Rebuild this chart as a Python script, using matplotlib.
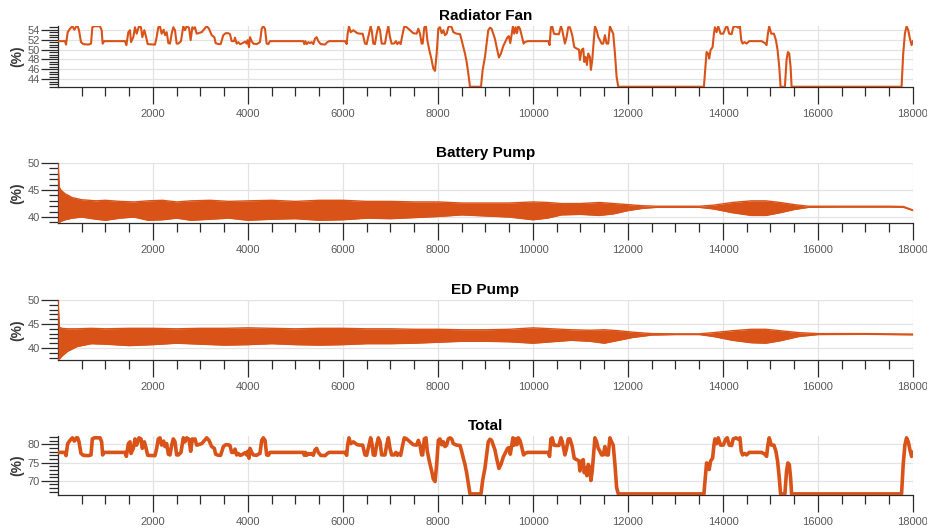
import matplotlib
matplotlib.use("Agg")
import matplotlib.pyplot as plt
from matplotlib.ticker import MultipleLocator, FixedLocator

# radiator fan duty and total (same time base)
t_fan = [0, 147, 169, 204, 253, 302, 344, 386, 414, 442, 484, 533, 639, 695, 723, 765, 884, 919, 940, 975,
         1411, 1439, 1481, 1516, 1537, 1586, 1621, 1656, 1705, 1747, 1775, 1818, 1846, 1888, 2042, 2077, 2112,
         2147, 2182, 2225, 2253, 2288, 2323, 2358, 2393, 2428, 2463, 2498, 2533, 2589, 2638, 2673, 2709, 2758,
         2793, 2828, 2856, 2884, 2919, 2954, 3024, 3060, 3130, 3179, 3235, 3291, 3319, 3375, 3424, 3481, 3530,
         3586, 3621, 3656, 3705, 3726, 3761, 3796, 3831, 3866, 3937, 3972, 3993, 4021, 4042, 4077, 4112, 4182,
         4217, 4252, 4288, 4323, 4358, 4393, 4428, 4463, 5165, 5186, 5207, 5235, 5270, 5305, 5340, 5375, 5410,
         5445, 5480, 5530, 5621, 5670, 5712, 6042, 6077, 6098, 6126, 6161, 6217, 6301, 6357, 6414, 6463, 6498,
         6547, 6582, 6610, 6638, 6673, 6708, 6744, 6779, 6814, 6884, 6919, 6954, 6989, 7024, 7073, 7115, 7143,
         7178, 7214, 7256, 7291, 7340, 7410, 7480, 7550, 7586, 7621, 7656, 7677, 7712, 7747, 7775, 7817, 7866,
         7901, 7937, 7972, 8007, 8042, 8077, 8112, 8147, 8182, 8217, 8252, 8288, 8323, 8393, 8463, 8498, 8533,
         8568, 8603, 8638, 8673, 8905, 8940, 8989, 9023, 9058, 9093, 9128, 9163, 9198, 9234, 9283, 9325, 9374,
         9423, 9465, 9493, 9521, 9549, 9577, 9605, 9634, 9662, 9690, 9725, 9760, 9802, 9830, 9886, 10321, 10349,
         10377, 10405, 10440, 10476, 10546, 10588, 10616, 10672, 10707, 10742, 10777, 10826, 10868, 10918, 10967,
         10988, 11023, 11058, 11079, 11107, 11135, 11163, 11198, 11219, 11247, 11269, 11304, 11339, 11374, 11409,
         11444, 11479, 11514, 11549, 11584, 11619, 11654, 11689, 11725, 11760, 11795, 13598, 13654, 13689, 13710,
         13738, 13781, 13809, 13830, 13865, 13900, 13949, 14005, 14061, 14089, 14131, 14181, 14216, 14272, 14321,
         14356, 14384, 14412, 14454, 14496, 14553, 14812, 14882, 14917, 14945, 14973, 15016, 15072, 15114, 15149,
         15184, 15212, 15303, 15338, 15366, 15395, 15423, 15444, 17759, 17794, 17829, 17864, 17900, 17935, 17970,
         18000]
fan = [51.7, 51.7, 51.0, 53.5, 54.2, 54.7, 54.0, 54.7, 54.7, 53.9, 51.5, 51.1, 51.0, 51.2, 54.5, 54.7, 54.7, 53.9, 51.2, 51.7,
       51.7, 50.9, 53.5, 53.9, 51.5, 52.5, 54.5, 53.2, 54.7, 54.5, 52.5, 53.9, 52.9, 51.1, 51.0, 52.5, 54.5,
       54.7, 53.2, 54.0, 52.9, 53.5, 51.3, 51.2, 53.2, 54.5, 53.9, 51.2, 51.2, 51.7, 54.7, 53.9, 54.7, 54.4,
       51.9, 54.5, 54.2, 54.5, 53.2, 53.3, 53.5, 53.9, 54.7, 54.2, 52.9, 52.5, 51.3, 51.1, 51.1, 52.9, 53.3,
       53.3, 53.1, 51.7, 51.7, 52.4, 51.2, 51.5, 51.1, 51.2, 51.6, 51.2, 51.9, 50.5, 52.5, 51.7, 51.2, 51.1,
       51.3, 51.5, 54.2, 54.7, 54.2, 51.2, 51.1, 51.7, 51.7, 51.1, 51.7, 51.1, 51.5, 51.3, 51.5, 51.1, 52.2,
       52.5, 51.7, 51.1, 51.0, 51.5, 51.7, 51.7, 51.1, 53.2, 54.7, 53.5, 53.9, 53.3, 53.2, 53.2, 51.2, 51.1,
       53.2, 54.7, 53.5, 51.2, 51.1, 53.2, 54.7, 53.9, 51.2, 51.2, 53.2, 54.7, 52.5, 51.2, 51.2, 51.7, 51.1,
       51.5, 51.1, 53.2, 54.7, 54.5, 53.9, 53.3, 53.2, 54.2, 53.2, 51.2, 51.2, 54.5, 54.7, 51.9, 49.9, 47.9,
       46.2, 45.7, 49.2, 54.2, 54.5, 53.3, 53.9, 52.9, 53.2, 54.5, 54.7, 54.5, 53.5, 53.2, 53.1, 51.9, 50.5,
       49.2, 47.5, 45.2, 42.5, 42.5, 45.9, 48.5, 51.2, 53.9, 54.4, 54.2, 53.2, 52.2, 50.5, 48.4, 49.2, 50.7,
       51.7, 52.5, 52.7, 51.3, 52.9, 54.7, 53.2, 54.5, 53.3, 54.7, 54.2, 52.9, 51.2, 51.5, 51.7, 51.7, 50.9,
       54.5, 54.7, 53.2, 53.1, 53.1, 54.7, 53.9, 51.2, 52.5, 54.5, 54.5, 52.9, 50.5, 50.2, 50.0,
       47.9, 49.9, 50.2, 47.5, 48.5, 46.9, 49.2, 48.5, 45.9, 47.9, 50.5, 54.7, 53.9, 52.5, 51.9,
       51.2, 51.2, 52.9, 51.2, 51.2, 54.7, 53.9, 53.2, 49.2, 44.5, 42.5, 42.5, 49.5, 49.2, 48.2,
       49.9, 50.5, 53.2, 54.5, 53.5, 54.7, 53.2, 53.2, 54.5, 54.7, 53.2, 53.1, 54.5, 54.7, 54.4,
       54.7, 51.9, 51.2, 51.5, 51.2, 51.7, 51.7, 51.3, 50.9, 53.2, 54.7, 53.2, 53.2, 51.9, 49.9,
       46.5, 42.5, 42.5, 47.9, 49.5, 49.2, 46.5, 42.5, 42.5, 49.2, 53.2, 54.7, 53.9, 52.2, 50.9,
       51.7]
total = [77.8, 77.8, 76.9, 80.2, 81.1, 81.8, 80.9, 81.8, 81.8, 80.7, 77.5, 77.0, 76.9, 77.1, 81.5, 81.8, 81.8, 80.7, 77.1, 77.8,
         77.8, 76.7, 80.2, 80.7, 77.5, 78.9, 81.5, 79.8, 81.8, 81.5, 78.9, 80.7, 79.4, 77.0, 76.9, 78.9, 81.5,
         81.8, 79.8, 80.9, 79.4, 80.2, 77.3, 77.1, 79.8, 81.5, 80.7, 77.1, 77.1, 77.8, 81.8, 80.7, 81.8, 81.4,
         78.1, 81.5, 81.1, 81.5, 79.8, 79.9, 80.2, 80.7, 81.8, 81.1, 79.4, 78.9, 77.3, 77.0, 77.0, 79.4, 79.9,
         79.9, 79.7, 77.8, 77.8, 78.7, 77.1, 77.5, 77.0, 77.1, 77.7, 77.1, 78.1, 76.2, 78.9, 77.8, 77.1, 77.0,
         77.3, 77.5, 81.1, 81.8, 81.1, 77.1, 77.0, 77.8, 77.8, 77.0, 77.8, 77.0, 77.5, 77.3, 77.5, 77.0, 78.5,
         78.9, 77.8, 77.0, 76.9, 77.5, 77.8, 77.8, 77.0, 79.8, 81.8, 80.2, 80.7, 79.9, 79.8, 79.8, 77.1, 77.0,
         79.8, 81.8, 80.2, 77.1, 77.0, 79.8, 81.8, 80.7, 77.1, 77.1, 79.8, 81.8, 78.9, 77.1, 77.1, 77.8, 77.0,
         77.5, 77.0, 79.8, 81.8, 81.5, 80.7, 79.9, 79.8, 81.1, 79.8, 77.1, 77.1, 81.5, 81.8, 78.1, 75.4, 72.7,
         70.5, 69.8, 74.5, 81.1, 81.5, 79.9, 80.7, 79.4, 79.8, 81.5, 81.8, 81.5, 80.2, 79.8, 79.7, 78.1, 76.2,
         74.5, 72.2, 69.2, 66.4, 66.4, 70.1, 73.5, 77.1, 80.7, 81.4, 81.1, 79.8, 78.5, 76.2, 73.4, 74.5, 76.5,
         77.8, 78.9, 79.1, 77.3, 79.4, 81.8, 79.8, 81.5, 79.9, 81.8, 81.1, 79.4, 77.1, 77.5, 77.8, 77.8, 76.7,
         81.5, 81.8, 79.8, 79.7, 79.7, 81.8, 80.7, 77.1, 78.9, 81.5, 81.5, 79.4, 76.2, 75.8, 75.5,
         72.7, 75.4, 75.8, 72.2, 73.5, 71.4, 74.5, 73.5, 70.1, 72.7, 76.2, 81.8, 80.7, 78.9, 78.1,
         77.1, 77.1, 79.4, 77.1, 77.1, 81.8, 80.7, 79.8, 74.5, 68.2, 66.4, 66.4, 74.9, 74.5, 73.1,
         75.4, 76.2, 79.8, 81.5, 80.2, 81.8, 79.8, 79.8, 81.5, 81.8, 79.8, 79.7, 81.5, 81.8, 81.4,
         81.8, 78.1, 77.1, 77.5, 77.1, 77.8, 77.8, 77.3, 76.7, 79.8, 81.8, 79.8, 79.8, 78.1, 75.4,
         70.9, 66.4, 66.4, 72.7, 74.9, 74.5, 70.9, 66.4, 66.4, 74.5, 79.8, 81.8, 80.7, 78.5, 76.7,
         77.8]

# battery pump: upper / lower envelope of the oscillation
t_batt = [0, 30, 60, 150, 300, 500, 800, 1000, 1300, 1600, 1900, 2200, 2500, 2800, 3200, 3600, 4000, 4500,
          5000, 5500, 6000, 6500, 7000, 7500, 8000, 8500, 9000, 9500, 10000, 10300, 10600, 11000, 11400,
          11700, 12000, 12300, 12600, 13000, 13500, 13800, 14200, 14600, 14900, 15200, 15500, 15800, 16500,
          17500, 17800, 18000]
batt_hi = [50.0, 45.5, 45.0, 44.3, 43.6, 43.2, 43.0, 43.1, 42.9, 42.8, 43.0, 43.1, 42.8, 43.0, 43.1, 42.9, 43.0, 43.1,
           42.9, 43.1, 43.1, 42.9, 42.9, 42.8, 42.8, 42.6, 42.6, 42.6, 42.8, 42.7, 42.5, 42.5, 42.7,
           42.5, 42.3, 42.1, 42.0, 42.0, 42.0, 42.2, 42.7, 43.0, 43.0, 42.7, 42.3, 42.0, 42.0,
           42.0, 41.95, 41.3]
batt_lo = [39.0, 39.0, 39.2, 39.5, 39.8, 40.0, 39.6, 39.4, 39.8, 40.0, 39.4, 39.5, 39.8, 39.4, 39.6, 39.8, 39.4, 39.6,
           39.7, 39.4, 39.5, 39.8, 39.7, 39.9, 40.1, 40.4, 40.2, 40.0, 39.5, 39.8, 40.4, 40.5, 40.3,
           40.6, 41.2, 41.6, 41.8, 41.8, 41.8, 41.5, 40.8, 40.3, 40.3, 40.8, 41.4, 41.8, 41.85,
           41.85, 41.8, 41.2]

# ED pump: upper / lower envelope
t_ed = [0, 30, 80, 200, 400, 700, 1000, 1500, 2000, 2500, 3000, 3500, 4000, 4500, 5000, 5500, 6000, 6500,
        7000, 7500, 8000, 8500, 9000, 9500, 10000, 10400, 10800, 11200, 11500, 11800, 12100, 12500, 13000,
        13500, 13800, 14200, 14600, 14900, 15200, 15600, 16000, 17000, 18000]
ed_hi = [50.0, 44.3, 44.1, 44.0, 44.0, 44.1, 44.0, 44.1, 44.1, 44.0, 44.1, 44.1, 44.2, 44.1, 44.0, 44.1, 44.1, 44.0,
         44.0, 43.9, 43.9, 43.8, 43.8, 43.9, 44.2, 44.0, 43.8, 43.7, 43.8, 43.6, 43.3, 43.0, 42.95,
         42.95, 43.2, 43.6, 43.9, 43.9, 43.6, 43.2, 43.0, 43.0, 42.9]
ed_lo = [37.6, 37.7, 38.3, 39.3, 40.3, 40.9, 40.8, 40.5, 40.7, 41.0, 40.8, 40.6, 40.7, 40.9, 40.7, 40.6, 40.7, 40.9,
         40.9, 41.0, 41.2, 41.4, 41.4, 41.3, 41.0, 41.3, 41.6, 41.4, 41.0, 41.6, 42.2, 42.7, 42.8,
         42.8, 42.4, 41.6, 41.1, 41.0, 41.5, 42.4, 42.8, 42.85, 42.75]

x_ticks = [2000, 4000, 6000, 8000, 10000, 12000, 14000, 16000, 18000]
x_minor = [t for t in range(500, 18001, 500) if t % 2000]

ORANGE = "#D95319"
plt.rcParams["font.family"] = ["Liberation Sans", "DejaVu Sans"]

fig = plt.figure(figsize=(9.28, 5.29), dpi=100)
W, H = 928, 529


def make_ax(top, bottom):
    return fig.add_axes([58 / W, (H - bottom) / H, 855 / W, (bottom - top) / H])


def style(ax, title, ylim, ymajor, yminor):
    ax.set_xlim(0, 18000)
    ax.set_ylim(*ylim)
    ax.xaxis.set_major_locator(FixedLocator(x_ticks))
    ax.xaxis.set_minor_locator(FixedLocator(x_minor))
    ax.yaxis.set_major_locator(MultipleLocator(ymajor))
    ax.yaxis.set_minor_locator(MultipleLocator(yminor))
    for s in ["top", "right"]:
        ax.spines[s].set_visible(False)
    for s in ["left", "bottom"]:
        ax.spines[s].set_color("#2b2b2b")
        ax.spines[s].set_linewidth(0.9)
    ax.tick_params(which="major", direction="out", length=12, width=0.9, color="#2b2b2b",
                   labelsize=8, labelcolor="#5a5a5a")
    ax.tick_params(which="minor", direction="out", length=6.5, width=0.9, color="#2b2b2b")
    ax.tick_params(axis="x", which="major", pad=3.5)
    ax.tick_params(axis="y", which="major", pad=1)
    ax.grid(True, which="major", color="#e3e3e3", linewidth=0.9)
    ax.set_axisbelow(True)
    ax.set_title(title, fontsize=11, fontweight="bold", pad=4)
    ax.set_ylabel("(%)", fontsize=10, fontweight="bold", color="#3a3a3a")
    ax.yaxis.set_label_coords(-34 / 855, 0.5)


ax1 = make_ax(26, 87)
ax1.plot(t_fan, fan, color=ORANGE, lw=1.5, zorder=3)
style(ax1, "Radiator Fan", (42.45, 54.75), 2, 0.5)

ax2 = make_ax(163, 223)
ax2.fill_between(t_batt, batt_lo, batt_hi, color=ORANGE, lw=0, zorder=3)
ax2.plot(t_batt, batt_hi, color=ORANGE, lw=1.0, zorder=3)
ax2.plot(t_batt, batt_lo, color=ORANGE, lw=1.0, zorder=3)
style(ax2, "Battery Pump", (38.9, 50), 5, 1)

ax3 = make_ax(300, 360)
ax3.fill_between(t_ed, ed_lo, ed_hi, color=ORANGE, lw=0, zorder=3)
ax3.plot(t_ed, ed_hi, color=ORANGE, lw=1.0, zorder=3)
ax3.plot(t_ed, ed_lo, color=ORANGE, lw=1.0, zorder=3)
style(ax3, "ED Pump", (37.5, 50), 5, 1)

ax4 = make_ax(436, 495)
ax4.plot(t_fan, total, color=ORANGE, lw=2.6, zorder=3)
style(ax4, "Total", (66.1, 82.3), 5, 1)

fig.savefig("out.png", dpi=100)
